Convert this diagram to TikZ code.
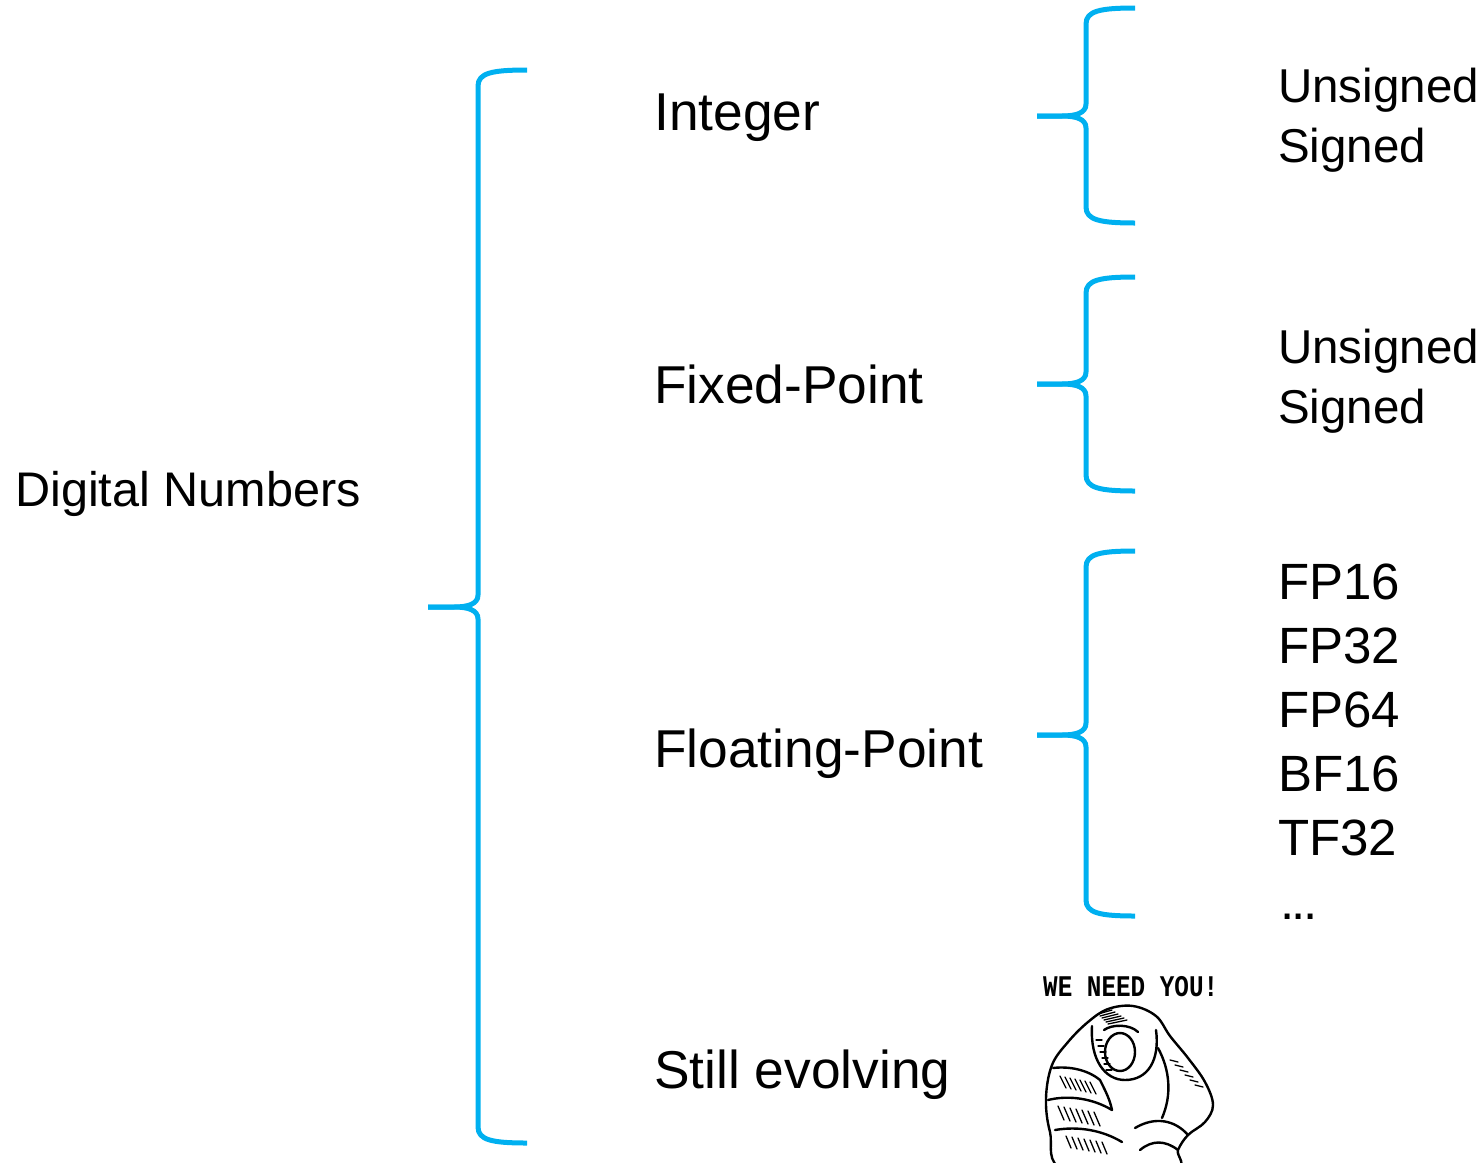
\documentclass[tikz,border=0pt]{standalone}
\usepackage{fontspec}
\setmainfont{Liberation Sans}
\newfontfamily\stampfont{Liberation Mono}
\definecolor{bracecyan}{HTML}{00B0F0}

% a curly brace: vertical x, top y, cusp y, bottom y, tip x, end x
\newcommand\curlybrace[6]{%
  \draw[bracestroke] (#6,#2) .. controls (#1+14,#2) and (#1,#2+3) .. (#1,#2+16)
    -- (#1,#3-12) .. controls (#1,#3-3) and (#1-10,#3) .. (#1-24,#3) -- (#5,#3);
  \draw[bracestroke] (#5,#3) -- (#1-24,#3) .. controls (#1-10,#3) and (#1,#3+3) .. (#1,#3+12)
    -- (#1,#4-16) .. controls (#1,#4-3) and (#1+14,#4) .. (#6,#4);
}

\begin{document}
\begin{tikzpicture}[x=1pt,y=-1pt,
  bracestroke/.style={draw=bracecyan, line width=5pt, line cap=butt, line join=round},
  rootlbl/.style={anchor=base west, inner sep=0pt, font=\fontsize{48.6}{56}\selectfont},
  catlbl/.style={anchor=base west, inner sep=0pt, font=\fontsize{53.3}{60}\selectfont},
  kindlbl/.style={anchor=base west, inner sep=0pt, font=\fontsize{47.5}{56}\selectfont},
  fmtlbl/.style={anchor=base west, inner sep=0pt, font=\fontsize{51}{58}\selectfont},
  ink/.style={draw=black, line width=2.4pt, line cap=round, line join=round},
  hatch/.style={draw=black, line width=1.3pt, line cap=round}]
\useasboundingbox (0,0) rectangle (1483,1162);

% labels
\node[rootlbl] (root) at (15,506) {Digital Numbers};
\node[catlbl] (int) at (654,130) {Integer};
\node[catlbl] (fix) at (654,403) {Fixed-Point};
\node[catlbl] (flt) at (654,767) {Floating-Point};
\node[catlbl] (evo) at (654,1088) {Still evolving};

\node[kindlbl] (intu) at (1278,102) {Unsigned};
\node[kindlbl] (ints) at (1278,162) {Signed};
\node[kindlbl] (fixu) at (1278,363) {Unsigned};
\node[kindlbl] (fixs) at (1278,423) {Signed};

\node[fmtlbl] (fp16) at (1278,599) {FP16};
\node[fmtlbl] (fp32) at (1278,663) {FP32};
\node[fmtlbl] (fp64) at (1278,727) {FP64};
\node[fmtlbl] (bf16) at (1278,791) {BF16};
\node[fmtlbl] (tf32) at (1278,855) {TF32};
\node[fmtlbl] (more) at (1280,919) {.\kern-2.5pt.\kern-2.5pt.};

% braces
\curlybrace{478}{70}{607}{1143}{428}{527}
\curlybrace{1086}{8}{116}{223}{1037}{1135}
\curlybrace{1086}{277}{384}{491}{1037}{1135}
\curlybrace{1086}{551}{735}{916}{1037}{1135}

% poster caption and pointing hand
\node[anchor=base west, inner sep=0pt] (call) at (1043,996)
  {\scalebox{0.81}[1]{\fontsize{30}{34}\stampfont\bfseries WE NEED YOU!}};

\begin{scope}
\clip (1000,1000) rectangle (1260,1162);
% outline of the fist
\draw[ink, fill=white] plot[smooth cycle, tension=0.6] coordinates {
  (1065,1170) (1050,1132) (1046,1098) (1052,1065) (1068,1042) (1088,1022)
  (1108,1009) (1133,1006) (1156,1016) (1170,1036) (1188,1058) (1205,1082)
  (1213,1105) (1205,1122) (1188,1135) (1178,1150) (1172,1170)};
% index finger pointing outwards
\draw[ink] (1092,1026) .. controls (1090,1060) and (1105,1080) .. (1125,1080)
  .. controls (1148,1080) and (1160,1060) .. (1156,1030);
\draw[ink] (1120,1052) ellipse [x radius=15, y radius=19];
\draw[ink] (1104,1030) .. controls (1112,1024) and (1130,1024) .. (1138,1032);
% curled fingers
\draw[ink] (1053,1068) .. controls (1070,1066) and (1088,1070) .. (1100,1080);
\draw[ink] (1048,1100) .. controls (1068,1095) and (1092,1098) .. (1112,1110);
\draw[ink] (1055,1130) .. controls (1078,1126) and (1102,1130) .. (1122,1142);
\draw[ink] (1100,1080) .. controls (1106,1092) and (1110,1100) .. (1112,1110);
% middle finger and thumb
\draw[ink] (1158,1048) .. controls (1170,1070) and (1172,1095) .. (1162,1118);
\draw[ink] (1135,1128) .. controls (1155,1116) and (1175,1120) .. (1188,1135);
\draw[ink] (1140,1150) .. controls (1152,1140) and (1165,1140) .. (1178,1150);
% shading strokes
\foreach \i in {0,...,6} {
  \draw[hatch] (1060+\i*5,1076+\i*1) -- (1066+\i*5,1088+\i*1);
  \draw[hatch] (1058+\i*6,1106+\i*1) -- (1064+\i*6,1120+\i*1);
  \draw[hatch] (1066+\i*6,1136+\i*1) -- (1071+\i*6,1148+\i*1);
}
\foreach \i in {0,...,5} {
  \draw[hatch] (1098+\i*2,1014+\i*2) -- (1112+\i*3,1010+\i*2);
  \draw[hatch] (1170+\i*5,1060+\i*5) -- (1178+\i*5,1062+\i*5);
  \draw[hatch] (1096+\i*2,1040+\i*6) -- (1102+\i*2,1040+\i*6);
}
\end{scope}
\end{tikzpicture}
\end{document}
